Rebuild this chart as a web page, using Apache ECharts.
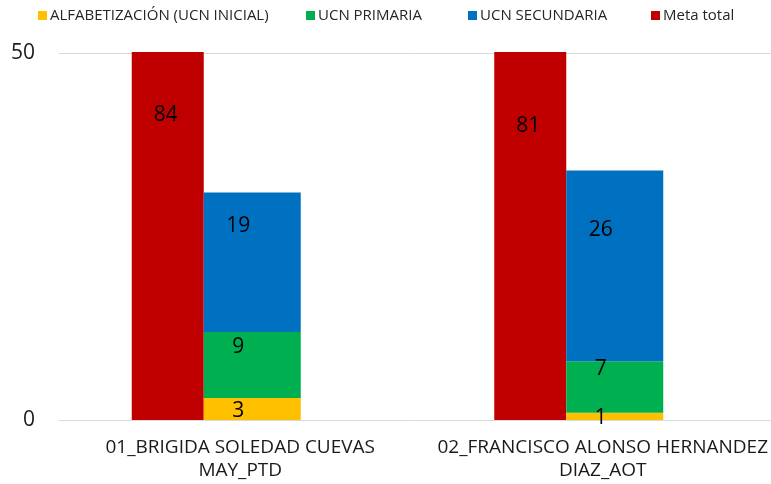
<!DOCTYPE html>
<html>
<head>
<meta charset="utf-8">
<script src="https://cdn.jsdelivr.net/npm/echarts@6/dist/echarts.min.js"></script>
<style>
  html, body { margin: 0; padding: 0; background: #ffffff; }
  #chart { width: 771px; height: 484px; }
</style>
</head>
<body>
<div id="chart"></div>
<script>
// Categories (one per promoter) and the values of each series
const categories = [
  '01_BRIGIDA SOLEDAD CUEVAS MAY_PTD',
  '02_FRANCISCO ALONSO HERNANDEZ DIAZ_AOT'
];
const seriesNames = ['ALFABETIZACIÓN (UCN INICIAL)', 'UCN PRIMARIA', 'UCN SECUNDARIA', 'Meta total'];
const alfabetizacion = [3, 1];
const ucnPrimaria = [9, 7];
const ucnSecundaria = [19, 26];
const metaTotal = [84, 81];
const yTicks = [0, 50];

const FONT = 'Open Sans';
const TEXT = '#1a1a1a';

const chart = echarts.init(document.getElementById('chart'), null, { renderer: 'canvas' });

// Wrap the category name before its last word
function wrapName(name) {
  const i = name.lastIndexOf(' ');
  return i > 0 ? name.slice(0, i) + '\n' + name.slice(i + 1) : name;
}

function stackLabel(offsetY) {
  return {
    show: true,
    position: 'inside',
    offset: [-14, offsetY],
    color: '#000',
    fontFamily: FONT,
    fontSize: 21
  };
}

// One legend entry per component so each key sits at its own place in the row
const legendLefts = [33, 301, 463, 646];
const legends = seriesNames.map((name, i) => ({
  data: [name],
  left: legendLefts[i],
  top: 3,
  icon: 'rect',
  itemWidth: 9,
  itemHeight: 9,
  textStyle: { fontFamily: FONT, fontSize: 15, color: '#262626', padding: [0, 0, 0, -2] }
}));

const option = {
  backgroundColor: '#ffffff',
  animation: false,
  legend: legends,
  graphic: [{
    // keeps the over-range columns inside the plot frame
    type: 'rect',
    z: 3,
    silent: true,
    shape: { x: 60, y: 0, width: 711, height: 52 },
    style: { fill: '#ffffff' }
  }],
  grid: [
    { left: 59, right: -13, top: 53, bottom: 64, outerBoundsMode: 'none', containLabel: false },
    { left: 35, right: 11, top: 53, bottom: 64, outerBoundsMode: 'none', containLabel: false }
  ],
  xAxis: [
    {
      type: 'category',
      gridIndex: 0,
      data: categories,
      axisLine: { show: true, lineStyle: { color: '#d9d9d9', width: 1 } },
      axisTick: { show: false },
      axisLabel: {
        interval: 0,
        margin: 16,
        formatter: wrapName,
        fontFamily: FONT,
        fontSize: 19,
        lineHeight: 23,
        color: TEXT
      }
    },
    { type: 'category', gridIndex: 1, data: categories, show: false }
  ],
  yAxis: [
    {
      type: 'value',
      gridIndex: 0,
      min: yTicks[0],
      max: yTicks[yTicks.length - 1],
      interval: yTicks[1] - yTicks[0],
      axisLine: { show: false },
      axisTick: { show: false },
      splitLine: { lineStyle: { color: '#d9d9d9', width: 1 } },
      axisLabel: { margin: 24, fontFamily: FONT, fontSize: 21, color: TEXT }
    },
    {
      type: 'value',
      gridIndex: 1,
      min: yTicks[0],
      max: yTicks[yTicks.length - 1],
      show: false,
      splitLine: { show: false }
    }
  ],
  series: [
    {
      name: seriesNames[3],
      type: 'bar',
      xAxisIndex: 1,
      yAxisIndex: 1,
      data: metaTotal,
      barWidth: 72,
      barGap: '0%',
      clip: false,
      itemStyle: { color: '#C00000' },
      label: {
        show: true,
        position: 'inside',
        offset: [-2, 3],
        color: '#000',
        fontFamily: FONT,
        fontSize: 21
      }
    },
    {
      name: seriesNames[0],
      type: 'bar',
      xAxisIndex: 1,
      yAxisIndex: 1,
      stack: 'avance',
      data: alfabetizacion,
      barWidth: 97,
      barGap: '0%',
      itemStyle: { color: '#FFC000' },
      label: stackLabel(2)
    },
    {
      name: seriesNames[1],
      type: 'bar',
      xAxisIndex: 1,
      yAxisIndex: 1,
      stack: 'avance',
      data: ucnPrimaria,
      barWidth: 97,
      barGap: '0%',
      itemStyle: { color: '#00B050' },
      label: stackLabel(-18)
    },
    {
      name: seriesNames[2],
      type: 'bar',
      xAxisIndex: 1,
      yAxisIndex: 1,
      stack: 'avance',
      data: ucnSecundaria,
      barWidth: 97,
      barGap: '0%',
      itemStyle: { color: '#0070C0' },
      label: stackLabel(-36)
    }
  ]
};

chart.setOption(option);
</script>
</body>
</html>
